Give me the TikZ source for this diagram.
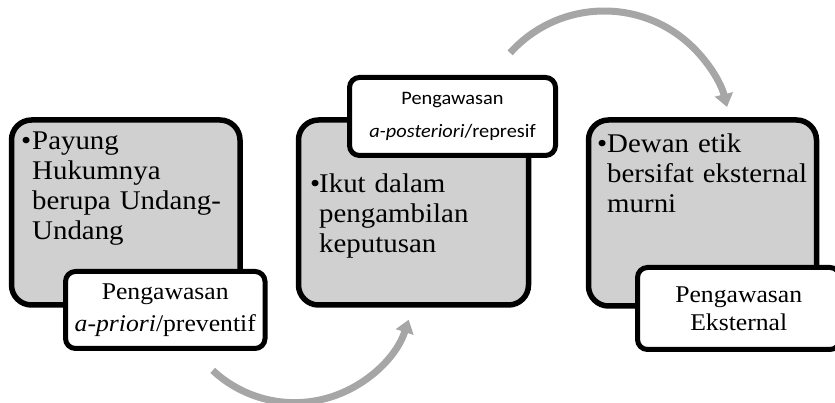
\documentclass[tikz,border=0pt]{standalone}
\usepackage{fontspec}
\setmainfont{Liberation Serif}[FakeStretch=1.07]
\newfontfamily\calfont{Carlito}[FakeStretch=1.07]
\usetikzlibrary{arrows.meta}
\definecolor{boxgray}{HTML}{D0D0D0}
\definecolor{arrowgray}{HTML}{A6A6A6}
\begin{document}
\begin{tikzpicture}[x=1pt,y=1pt,
  graybox/.style={draw=black, line width=5.5pt, fill=boxgray, rounded corners=20pt, inner sep=0pt},
  whitebox/.style={draw=black, line width=5pt, fill=white, rounded corners=10pt, inner sep=0pt, align=center},
  maintext/.style={font=\fontsize{27}{30}\selectfont, anchor=base west, inner sep=0pt, align=left, text width=220pt},
  bullettext/.style={font=\fontsize{27}{30}\selectfont, anchor=base west, inner sep=0pt},
  flow/.style={draw=arrowgray, line width=7pt, -{Triangle[width=18pt,length=13pt]}}
]
\useasboundingbox (0,0) rectangle (835,403);

% gray boxes
\node[graybox, minimum width=228.5pt, minimum height=185pt] (g1) at (125.75,190.5) {};
\node[graybox, minimum width=230pt, minimum height=185pt] (g2) at (413.5,190.5) {};
\node[graybox, minimum width=228pt, minimum height=186pt] (g3) at (702.5,190) {};

% bullet texts
\node[bullettext] (b1) at (21,253) {•};
\node[maintext] (t1) at (32,253) {Payung\\Hukumnya\\berupa Undang-\\Undang};
\node[bullettext] (b2) at (310,210) {•};
\node[maintext] (t2) at (319,210) {Ikut dalam\\pengambilan\\keputusan};
\node[bullettext] (b3) at (597,250) {•};
\node[maintext] (t3) at (607,250) {Dewan etik\\bersifat eksternal\\murni};

% white boxes
\node[whitebox, font=\fontsize{24}{32}\selectfont, minimum width=199.5pt, minimum height=77pt] (w1) at (165.25,93) {Pengawasan\\\textit{a-priori}/preventif};
\node[whitebox, font=\calfont\fontsize{19}{33}\selectfont, minimum width=206pt, minimum height=78pt] (w2) at (452.5,286.5) {Pengawasan\\\textit{a-posteriori}/represif};
\node[whitebox, font=\fontsize{24}{28}\selectfont, minimum width=202.5pt, minimum height=82pt] (w3) at (738.75,94.5) {Pengawasan\\Eksternal};

% arrows
\coordinate (a1s) at (212.7,32.6);
\coordinate (a2s) at (510.1,350.1);
\draw[flow] (a1s) arc[start angle=227, end angle=342, radius=120];
\draw[flow] (a2s) arc[start angle=138, end angle=14, radius=126.6];
\end{tikzpicture}
\end{document}
